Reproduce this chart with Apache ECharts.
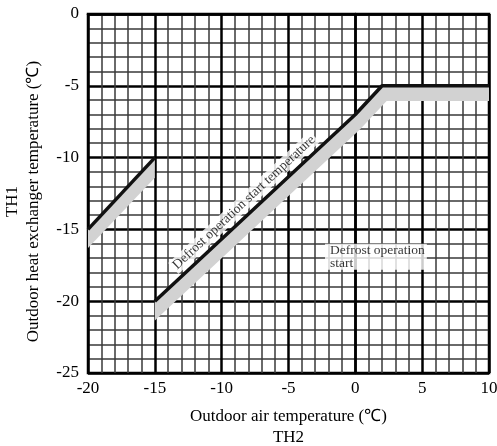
<!DOCTYPE html>
<html>
<head>
<meta charset="utf-8">
<script src="https://cdn.jsdelivr.net/npm/echarts@6/dist/echarts.min.js"></script>
<style>html,body{margin:0;padding:0;background:#fff}#c{width:497px;height:446px}</style>
</head>
<body>
<div id="c"></div>
<script>
// Lines: defrost operation start temperature
const line1X = [-20, -15];
const line1Y = [-15, -10];
const line2X = [-15, 0, 2, 10];
const line2Y = [-20, -7, -5, -5];
// Shaded bands (polygon vertices, data units)
const band1 = [[-20, -15], [-15, -10], [-15, -11.4], [-20, -16.3]];
const band2 = [[-15, -20], [0, -7], [2, -5], [10, -5], [10, -6.05], [2.34, -6.05], [0.34, -8.05], [-15, -21.35]];
// Axes
const xRange = [-20, 10];
const yRange = [-25, 0];
// Annotations
const ann1 = {x: -8.33, y: -13.13, text: 'Defrost operation start temperature'};
const ann2 = {x: -2.27, y: -16.9, text: 'Defrost operation\nstart'};

const FONT = '"Liberation Serif", "Times New Roman", serif';
const chart = echarts.init(document.getElementById('c'));
const pairs = (xs, ys) => xs.map((x, i) => [x, ys[i]]);
const bands = [band1, band2];

chart.setOption({
  animation: false,
  backgroundColor: '#fff',
  grid: {left: 88, right: 8, top: 14, bottom: 73, containLabel: false, outerBoundsMode: 'none',
    show: true, borderColor: '#000', borderWidth: 2.5, backgroundColor: 'transparent'},
  xAxis: {
    type: 'value', min: xRange[0], max: xRange[1], interval: 5,
    name: 'Outdoor air temperature (\u2103)\nTH2', nameLocation: 'middle', nameGap: 33,
    nameTextStyle: {fontFamily: FONT, fontSize: 17, color: '#000', lineHeight: 21},
    axisLine: {show: true, lineStyle: {color: '#000', width: 2.5}},
    axisTick: {show: false},
    axisLabel: {fontFamily: FONT, fontSize: 17, color: '#000', margin: 7},
    splitLine: {show: true, lineStyle: {color: '#000', width: 2.5}},
    minorTick: {show: false, splitNumber: 5},
    minorSplitLine: {show: true, lineStyle: {color: '#3a3a3a', width: 1.5}}
  },
  yAxis: {
    type: 'value', min: yRange[0], max: yRange[1], interval: 5,
    name: 'TH1\nOutdoor heat exchanger temperature (\u2103)', nameLocation: 'middle', nameGap: 44, nameRotate: 90,
    nameTextStyle: {fontFamily: FONT, fontSize: 17, color: '#000', lineHeight: 21, padding: [0, 16, 0, 0]},
    axisLine: {show: true, lineStyle: {color: '#000', width: 2.5}},
    axisTick: {show: false},
    axisLabel: {fontFamily: FONT, fontSize: 17, color: '#000', margin: 9},
    splitLine: {show: true, lineStyle: {color: '#000', width: 2.5}},
    minorTick: {show: false, splitNumber: 5},
    minorSplitLine: {show: true, lineStyle: {color: '#3a3a3a', width: 1.5}}
  },
  series: [
    {
      type: 'custom', z: 2, silent: true,
      data: bands.map((b, i) => [i]),
      renderItem: (params, api) => {
        const pts = bands[params.dataIndex].map(p => api.coord(p));
        return {type: 'polygon', shape: {points: pts}, style: {fill: '#d2d2d2', stroke: null}};
      }
    },
    {type: 'line', z: 4, data: pairs(line1X, line1Y), symbol: 'none', lineStyle: {color: '#111', width: 3.5}},
    {type: 'line', z: 4, data: pairs(line2X, line2Y), symbol: 'none', lineStyle: {color: '#111', width: 3.5}},
    {
      type: 'scatter', z: 5, symbolSize: 0, silent: true,
      data: [[ann1.x, ann1.y]],
      label: {show: true, position: 'inside', formatter: ann1.text, rotate: 43,
        fontFamily: FONT, fontSize: 13.5, color: '#000', backgroundColor: '#fff', padding: [1, 2, 0, 2]}
    },
    {
      type: 'scatter', z: 5, symbolSize: 0, silent: true,
      data: [[ann2.x, ann2.y]],
      label: {show: true, position: 'right', distance: 0, formatter: ann2.text, align: 'left',
        fontFamily: FONT, fontSize: 13.5, lineHeight: 13, color: '#000', backgroundColor: '#fff', padding: [0, 2, 0, 5]}
    }
  ]
});
</script>
</body>
</html>
